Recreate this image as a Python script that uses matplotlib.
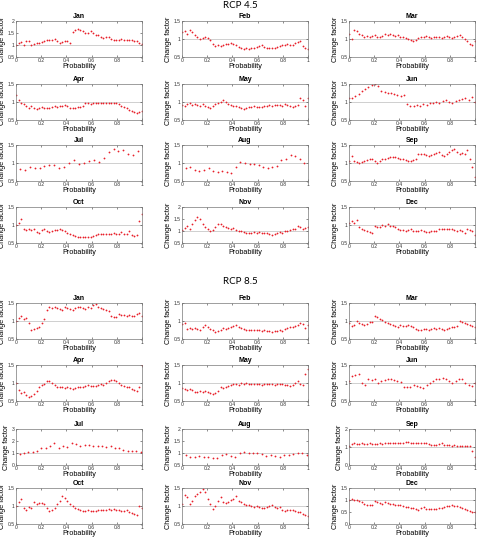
import matplotlib.pyplot as plt
import numpy as np

months = ['Jan', 'Feb', 'Mar', 'Apr', 'May', 'Jun',
          'Jul', 'Aug', 'Sep', 'Oct', 'Nov', 'Dec']

# ---------------- RCP 4.5 change factors ----------------
jan45 = [1.0, 1.08, 1.12, 1.0, 1.15, 1.18, 1.0, 1.05, 1.08, 1.1, 1.12, 1.18, 1.2, 1.22, 1.22, 1.25, 1.18,
         1.1, 1.12, 1.15, 1.18, 1.1, 1.55, 1.62, 1.65, 1.62, 1.58, 1.5, 1.52, 1.58, 1.5, 1.42, 1.4, 1.35,
         1.3, 1.32, 1.35, 1.25, 1.22, 1.2, 1.22, 1.25, 1.22, 1.2, 1.22, 1.2, 1.18, 1.15, 1.1, 1.05]
feb45 = [1.2, 1.22, 1.15, 1.25, 1.2, 1.1, 1.05, 1.0, 1.02, 1.05, 1.02, 0.98, 0.85, 0.8, 0.82, 0.8, 0.82,
         0.85, 0.86, 0.88, 0.85, 0.82, 0.78, 0.75, 0.73, 0.74, 0.73, 0.75, 0.76, 0.78, 0.8, 0.82, 0.78,
         0.76, 0.74, 0.75, 0.76, 0.78, 0.8, 0.82, 0.84, 0.86, 0.82, 0.84, 0.88, 0.92, 0.95, 0.8, 0.74, 0.72]
mar45 = [1.15, 1.0, 1.25, 1.22, 1.15, 1.1, 1.05, 1.08, 1.05, 1.07, 1.1, 1.06, 1.05, 1.08, 1.15, 1.12,
         1.14, 1.1, 1.08, 1.1, 1.06, 1.05, 1.02, 1.0, 0.97, 0.95, 0.98, 1.02, 1.05, 1.06, 1.08, 1.05, 1.03,
         1.05, 1.06, 1.05, 1.04, 1.06, 1.08, 1.05, 1.04, 1.06, 1.08, 1.1, 1.05, 1.0, 0.95, 0.85, 0.82, 0.95]
apr45 = [1.2, 1.05, 0.98, 0.95, 0.88, 0.82, 0.88, 0.82, 0.8, 0.84, 0.86, 0.84, 0.83, 0.84, 0.86, 0.88,
         0.86, 0.88, 0.9, 0.92, 0.88, 0.84, 0.83, 0.84, 0.86, 0.85, 0.9, 0.96, 0.97, 0.95, 0.96, 0.97, 0.96,
         0.97, 0.98, 0.97, 0.98, 0.97, 0.96, 0.98, 0.94, 0.9, 0.86, 0.82, 0.78, 0.74, 0.72, 0.7, 0.72, 0.74]
may45 = [0.92, 0.88, 0.95, 0.97, 0.92, 0.95, 0.93, 0.9, 0.95, 0.9, 0.85, 0.82, 0.9, 0.95, 0.98, 1.0, 1.05,
         1.0, 0.95, 0.92, 0.9, 0.88, 0.86, 0.84, 0.8, 0.82, 0.85, 0.86, 0.88, 0.87, 0.85, 0.86, 0.88, 0.9,
         0.92, 0.9, 0.91, 0.93, 0.92, 0.9, 0.94, 0.92, 0.88, 0.86, 0.9, 0.92, 1.1, 1.05, 0.9, 1.1]
jun45 = [1.12, 1.1, 1.18, 1.22, 1.3, 1.35, 1.42, 1.48, 1.5, 1.45, 1.3, 1.28, 1.25, 1.26, 1.22, 1.2, 1.18,
         1.2, 0.95, 0.9, 0.88, 0.92, 0.9, 0.95, 0.93, 0.96, 0.98, 1.0, 0.98, 1.02, 1.05, 1.0, 0.98, 1.02,
         1.05, 1.08, 1.1, 1.05, 1.15, 1.0]
jul45 = [0.82, 0.8, 0.88, 0.85, 0.86, 0.92, 0.95, 0.95, 0.85, 0.9, 1.0, 1.08, 0.98, 1.0, 1.05, 1.08,
         1.03, 1.15, 1.3, 1.38, 1.32, 1.35, 1.25, 1.22, 1.32]
aug45 = [0.85, 0.88, 0.8, 0.78, 0.8, 0.85, 0.78, 0.75, 0.78, 0.75, 0.72, 0.9, 1.02, 1.0, 0.98, 0.98,
         0.95, 0.88, 0.85, 0.88, 0.92, 1.08, 1.12, 1.22, 1.2, 1.12, 1.0]
sep45 = [1.05, 1.2, 1.05, 1.02, 1.0, 1.02, 1.05, 1.08, 1.1, 1.12, 1.05, 1.0, 1.05, 1.12, 1.1, 1.15, 1.18,
         1.16, 1.18, 1.15, 1.12, 1.1, 1.08, 1.05, 1.05, 1.08, 1.1, 1.25, 1.26, 1.25, 1.22, 1.2, 1.22, 1.25,
         1.28, 1.3, 1.22, 1.2, 1.25, 1.3, 1.35, 1.38, 1.3, 1.25, 1.28, 1.25, 1.35, 1.1, 0.9, 0.6]
oct45 = [1.0, 1.05, 1.18, 0.9, 0.85, 0.88, 0.86, 0.88, 0.8, 0.78, 0.85, 0.88, 0.82, 0.8, 0.82, 0.85, 0.87,
         0.88, 0.86, 0.84, 0.78, 0.74, 0.72, 0.7, 0.68, 0.68, 0.67, 0.67, 0.68, 0.68, 0.7, 0.72, 0.74, 0.75,
         0.76, 0.74, 0.75, 0.76, 0.78, 0.76, 0.74, 0.8, 0.76, 0.74, 0.82, 0.72, 0.7, 0.72, 1.1, 1.3]
nov45 = [1.05, 1.12, 1.2, 1.1, 1.3, 1.45, 1.6, 1.5, 1.3, 1.15, 1.08, 1.0, 1.05, 1.15, 1.28, 1.3, 1.22,
         1.15, 1.12, 1.1, 1.12, 1.05, 1.0, 0.98, 0.95, 0.92, 0.9, 0.92, 0.95, 0.92, 0.94, 0.9, 0.92, 0.9,
         0.88, 0.85, 0.87, 0.92, 0.95, 0.92, 1.0, 1.02, 1.05, 1.08, 1.1, 1.22, 1.18, 1.1, 1.12, 1.15]
dec45 = [1.05, 1.1, 1.05, 1.15, 0.95, 0.9, 0.86, 0.84, 0.8, 0.78, 0.96, 0.94, 0.95, 1.0, 0.96, 1.02, 0.98,
         0.96, 0.94, 0.9, 0.86, 0.85, 0.84, 0.86, 0.88, 0.84, 0.82, 0.84, 0.86, 0.84, 0.8, 0.8, 0.82, 0.84,
         0.82, 0.88, 0.9, 0.9, 0.88, 0.9, 0.88, 0.86, 0.84, 0.86, 0.82, 0.78, 0.9, 0.85, 0.82, 0.72]

# ---------------- RCP 8.5 change factors ----------------
jan85 = [1.0, 1.08, 1.15, 1.05, 1.08, 0.95, 0.75, 0.78, 0.8, 0.82, 0.95, 1.05, 1.3, 1.38, 1.35, 1.4, 1.35,
         1.32, 1.3, 1.38, 1.36, 1.34, 1.3, 1.35, 1.38, 1.4, 1.35, 1.32, 1.38, 1.35, 1.45, 1.48, 1.4, 1.36,
         1.32, 1.3, 1.28, 1.15, 1.12, 1.1, 1.2, 1.18, 1.16, 1.15, 1.18, 1.14, 1.15, 1.2, 1.22, 1.15]
feb85 = [0.92, 0.95, 0.78, 0.8, 0.78, 0.8, 0.78, 0.76, 0.82, 0.88, 0.84, 0.78, 0.74, 0.7, 0.72, 0.76, 0.8,
         0.78, 0.8, 0.82, 0.86, 0.9, 0.84, 0.8, 0.78, 0.76, 0.76, 0.74, 0.76, 0.74, 0.74, 0.72, 0.74, 0.72,
         0.72, 0.7, 0.71, 0.72, 0.74, 0.72, 0.78, 0.8, 0.82, 0.84, 0.86, 0.9, 0.95, 0.92, 0.8, 0.88]
mar85 = [0.95, 0.86, 0.88, 1.0, 0.95, 0.92, 0.9, 0.92, 0.96, 0.98, 1.15, 1.1, 1.05, 1.02, 0.98, 0.95, 0.92,
         0.9, 0.85, 0.84, 0.88, 0.86, 0.87, 0.88, 0.86, 0.82, 0.78, 0.75, 0.76, 0.78, 0.77, 0.76, 0.78, 0.8,
         0.78, 0.8, 0.78, 0.76, 0.78, 0.8, 0.82, 0.84, 0.86, 1.0, 0.98, 0.95, 0.92, 0.9, 0.86, 0.82]
apr85 = [1.0, 0.8, 0.72, 0.75, 0.68, 0.62, 0.65, 0.7, 0.78, 0.9, 0.95, 0.98, 1.05, 1.06, 1.0, 0.95, 0.9,
         0.88, 0.88, 0.87, 0.88, 0.86, 0.84, 0.86, 0.88, 0.9, 0.9, 0.92, 0.94, 0.92, 0.93, 0.92, 0.95, 0.96,
         0.95, 1.0, 1.05, 1.08, 1.07, 1.05, 1.0, 0.95, 0.92, 0.9, 0.88, 0.82, 0.8, 0.78, 0.9, 1.5]
may85 = [0.85, 0.82, 0.8, 0.84, 0.8, 0.76, 0.74, 0.78, 0.76, 0.78, 0.75, 0.72, 0.7, 0.72, 0.78, 0.88,
         0.85, 0.88, 0.92, 0.95, 0.96, 0.98, 0.94, 1.0, 0.98, 0.99, 0.98, 0.97, 0.96, 0.98, 0.97, 0.95,
         0.96, 0.98, 0.97, 0.96, 0.95, 0.97, 0.98, 0.96, 0.95, 0.94, 0.92, 0.95, 1.0, 1.05, 0.96, 0.95, 1.25, 1.38]
jun85 = [1.05, 1.2, 1.22, 1.25, 1.0, 0.95, 1.1, 1.08, 1.1, 1.0, 1.05, 1.08, 1.1, 1.12, 1.08, 1.05, 1.02,
         0.9, 0.88, 0.9, 0.95, 0.92, 0.88, 0.85, 0.95, 1.0, 1.05, 1.1, 1.12, 1.15, 1.1, 1.05, 1.0, 1.05,
         1.1, 1.12, 1.0, 0.95, 0.92, 1.0]
jul85 = [0.95, 1.0, 1.05, 1.05, 1.2, 1.4, 1.45, 1.6, 1.85, 1.4, 1.6, 1.5, 1.8, 1.75, 1.6, 1.7, 1.7,
         1.6, 1.55, 1.55, 1.5, 1.55, 1.45, 1.4, 1.25, 1.2, 1.15, 1.2, 1.05]
aug85 = [0.92, 0.85, 0.85, 0.87, 0.85, 0.85, 0.8, 0.8, 0.9, 0.95, 0.88, 0.82, 0.98, 1.05, 1.0, 0.98,
         1.0, 0.95, 0.88, 0.9, 0.88, 0.85, 0.9, 0.92, 0.95, 0.98, 1.0, 0.92]
sep85 = [1.05, 1.15, 1.2, 1.18, 1.15, 1.2, 1.18, 1.15, 1.2, 1.16, 1.15, 1.18, 1.2, 1.18, 1.22, 1.2, 1.22,
         1.2, 1.22, 1.2, 1.22, 1.25, 1.3, 1.28, 1.25, 1.22, 1.2, 1.22, 1.25, 1.22, 1.2, 1.15, 1.12, 1.1,
         1.12, 1.15, 1.22, 1.12, 1.1, 1.1, 1.08, 1.1, 1.08, 1.06, 1.05, 1.06, 1.05, 1.05, 0.8, 0.45]
oct85 = [1.0, 1.12, 1.2, 0.95, 0.9, 0.98, 0.95, 1.1, 1.05, 1.08, 1.08, 1.05, 0.95, 0.85, 0.88, 0.95, 1.05,
         1.15, 1.28, 1.22, 1.15, 1.05, 1.0, 0.95, 0.92, 0.88, 0.85, 0.86, 0.88, 0.86, 0.87, 0.85, 0.88, 0.9,
         0.88, 0.9, 0.92, 0.9, 0.92, 0.9, 0.88, 0.86, 0.85, 0.88, 0.84, 0.8, 0.78, 0.75, 1.0, 0.95]
nov85 = [1.05, 1.3, 1.25, 1.05, 1.15, 1.28, 1.32, 1.38, 1.48, 1.4, 1.2, 1.05, 0.92, 1.0, 1.15, 1.25, 1.1,
         1.08, 1.12, 1.18, 1.2, 1.28, 1.15, 1.1, 1.05, 1.04, 1.02, 1.0, 0.98, 1.0, 0.97, 0.95, 0.94, 0.96,
         1.0, 1.02, 0.98, 0.95, 0.96, 0.9, 0.85, 0.88, 0.9, 0.88, 0.86, 0.84, 0.82, 0.78, 0.75, 0.72]
dec85 = [0.98, 1.05, 1.02, 1.0, 0.95, 0.9, 0.85, 0.8, 0.78, 0.8, 0.95, 0.9, 0.88, 0.85, 0.9, 0.86, 0.84,
         0.82, 0.8, 0.8, 0.78, 0.75, 0.72, 0.7, 0.68, 0.65, 0.62, 0.6, 0.65, 0.7, 0.64, 0.62, 0.62, 0.63,
         0.64, 0.66, 0.68, 0.7, 0.73, 0.76, 0.78, 0.76, 0.74, 0.7, 0.66, 0.64, 0.6, 0.56, 0.52, 0.48]

# probability range covered by each panel (sparse months start/end inside)
prob45 = [(0, 1)] * 6 + [(0.03, 0.97), (0.03, 0.97)] + [(0, 1)] * 4
prob85 = [(0, 1)] * 6 + [(0.03, 0.99), (0.03, 0.99)] + [(0, 1)] * 4

ylim45 = [(0.5, 2), (0.5, 1.5), (0.5, 1.5), (0.5, 1.5), (0.5, 1.5), (0.5, 1.5),
          (0.5, 1.5), (0.5, 1.5), (0.5, 1.5), (0.5, 1.5), (0.5, 2), (0.5, 1.5)]
ylim85 = [(0.5, 1.5), (0.5, 1.5), (0.5, 1.5), (0.5, 1.5), (0.5, 1.5), (0.5, 1.5),
          (0, 3), (0.5, 2), (0, 2), (0.5, 1.5), (0.5, 1.5), (0, 1.5)]

data45 = [jan45, feb45, mar45, apr45, may45, jun45, jul45, aug45, sep45, oct45, nov45, dec45]
data85 = [jan85, feb85, mar85, apr85, may85, jun85, jul85, aug85, sep85, oct85, nov85, dec85]

W, H = 480, 538
fig = plt.figure(figsize=(W / 100, H / 100), dpi=100)
plt.rcParams['font.family'] = ['Liberation Sans', 'DejaVu Sans']

col_left = [16, 182, 349]
ax_w = 126
rows45 = [21, 84, 145, 207]
rows85 = [303, 365, 429, 488]
ax_h = 36


def ticks_for(lo, hi):
    # matlab-like: unit steps when the axis starts at 0 and spans 2 or more
    step = 1 if (lo == 0 and hi >= 2) else 0.5
    return np.arange(lo, hi + 1e-9, step)


def fmt(v):
    return ('%g' % v)


def panel(left, top, name, vals, prange, ylim):
    ax = fig.add_axes([left / W, 1 - (top + ax_h) / H, ax_w / W, ax_h / H])
    x = np.linspace(prange[0], prange[1], len(vals))
    ax.axhline(1, color='#c8c8c8', lw=0.6, zorder=1)
    ax.plot(x, vals, '.', color='#e8202a', ms=2.6, mew=0, zorder=2)
    ax.set_xlim(0, 1)
    ax.set_ylim(*ylim)
    xt = [0, 0.2, 0.4, 0.6, 0.8, 1]
    ax.set_xticks(xt)
    ax.set_xticklabels([fmt(v) for v in xt])
    yt = ticks_for(*ylim)
    ax.set_yticks(yt)
    ax.set_yticklabels([fmt(v) for v in yt])
    ax.tick_params(direction='in', length=1.5, width=0.4, labelsize=3.6, pad=1,
                   top=True, right=True, colors='#333333')
    for s in ax.spines.values():
        s.set_linewidth(0.5)
        s.set_color('#777777')
    ax.set_title(name, fontsize=5, fontweight='bold', pad=2)
    ax.set_xlabel('Probability', fontsize=5.2, labelpad=0)
    ax.set_ylabel('Change factor', fontsize=5.2, labelpad=1)
    return ax


for i in range(12):
    r, c = divmod(i, 3)
    panel(col_left[c], rows45[r], months[i], data45[i], prob45[i], ylim45[i])
    panel(col_left[c], rows85[r], months[i], data85[i], prob85[i], ylim85[i])

fig.text(0.5, 1 - 6 / H, 'RCP 4.5', ha='center', va='center', fontsize=7, family='Lato')
fig.text(0.5, 1 - 282 / H, 'RCP 8.5', ha='center', va='center', fontsize=7, family='Lato')

fig.savefig('out.png', dpi=100)
